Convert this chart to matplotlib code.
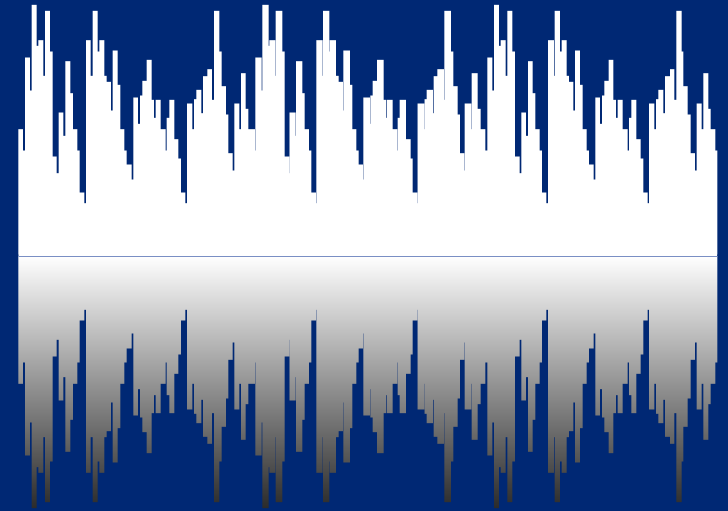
import numpy as np
import matplotlib
matplotlib.use("Agg")
import matplotlib.pyplot as plt
from matplotlib.colors import LinearSegmentedColormap

# Waveform levels of one repeating cycle (amplitude units)
cycle_levels = [382, 318, 597, 498, 755, 632, 649, 542, 737, 615, 300, 250, 432, 362, 586, 490, 382, 318, 192, 160,
                649, 542, 737, 615, 649, 542, 524, 438, 618, 515, 382, 318, 276, 231, 477, 398, 483, 527, 590, 470,
                416, 470, 382, 318, 416, 470, 352, 294, 192, 160, 459, 382, 472, 500, 430, 541, 562, 470, 737, 615,
                511, 426, 310, 258, 459, 382, 550, 443]
tail_levels = [382, 318]

# Step start times read for each cycle
cycle1_times = [55, 69, 75, 90, 95, 110, 115, 130, 135, 150, 158, 170, 176, 190, 196, 211, 219, 232, 239, 253,
                258, 272, 278, 293, 298, 313, 320, 333, 338, 353, 361, 373, 380, 395, 400, 414, 420, 427, 440, 455,
                462, 467, 482, 497, 500, 508, 523, 535, 543, 556, 561, 577, 582, 589, 604, 609, 622, 636, 642, 658,
                665, 678, 685, 698, 703, 718, 723, 737]
cycle2_times = [745, 765, 766, 785, 787, 806, 808, 826, 827, 847, 854, 868, 868.5, 887, 888, 907, 914, 927, 934, 948,
                949, 968, 969, 988, 989, 1008, 1016, 1029, 1030, 1050, 1057, 1069, 1076, 1089, 1090, 1110, 1111, 1118, 1131, 1151,
                1158, 1160, 1178, 1192, 1193, 1199, 1218, 1232, 1238, 1252, 1252.7, 1273, 1273.7, 1280, 1299, 1301, 1312, 1332, 1333, 1353,
                1360, 1373, 1380, 1393, 1394, 1414, 1415, 1433]
cycle3_times = [1442, 1456, 1462, 1477, 1482, 1497, 1502, 1517, 1522, 1537, 1545, 1559, 1564, 1578, 1584, 1598, 1606, 1619, 1626, 1639,
                1644, 1662, 1664, 1680, 1685, 1700, 1707, 1720, 1725, 1740, 1748, 1760, 1767, 1781, 1786, 1800, 1806, 1813, 1826, 1840,
                1848, 1853, 1868, 1883, 1887, 1894, 1909, 1922, 1930, 1943, 1947, 1963, 1968, 1975, 1990, 1995, 2010, 2023, 2029, 2045,
                2050, 2063, 2072, 2085, 2090, 2105, 2110, 2125]
tail_times = [2132, 2146]
end_time = 2152

times = np.array(cycle1_times + cycle2_times + cycle3_times + tail_times + [end_time], dtype=float)
levels = np.array(cycle_levels * 3 + tail_levels, dtype=float)

BG = "#002874"
X_MAX = 2184
Y_TOP, Y_BOTTOM = 769.5, -763.5
SIDE_MARGIN_LEVEL = 6
fig = plt.figure(figsize=(7.28, 5.11), dpi=100, facecolor=BG)
ax = fig.add_axes([0, 0, 1, 1], facecolor=BG)
ax.axis("off")

# Upper white waveform
upper = ax.stairs(levels, times, baseline=0, fill=True, color="white", lw=0, zorder=2)
upper.set_snap(False)

# Gradient panel for the reflection; the background colour then covers everything outside the mirrored levels
cmap = LinearSegmentedColormap.from_list("reflect", ["#ffffff", "#2a2a2a"])
grad = np.linspace(0, 1, 256).reshape(-1, 1)
ax.imshow(grad, cmap=cmap, origin="upper", aspect="auto", extent=(0, X_MAX, Y_BOTTOM, 0), zorder=1,
          interpolation="bilinear")
cover_times = np.concatenate([[0], times, [X_MAX]])
cover_levels = np.concatenate([[SIDE_MARGIN_LEVEL], -levels, [SIDE_MARGIN_LEVEL]])
cover = ax.stairs(cover_levels, cover_times, baseline=Y_BOTTOM, fill=True, color=BG, lw=0, zorder=2)
cover.set_snap(False)
ax.set_xlim(0, X_MAX)
ax.set_ylim(Y_BOTTOM, Y_TOP)

# Centre line
ax.plot([times[0], times[-1]], [0, 0], color="#7a8fc4", lw=0.72, zorder=3, solid_capstyle="butt", snap=False)

fig.savefig("out.png", dpi=100, facecolor=BG)
